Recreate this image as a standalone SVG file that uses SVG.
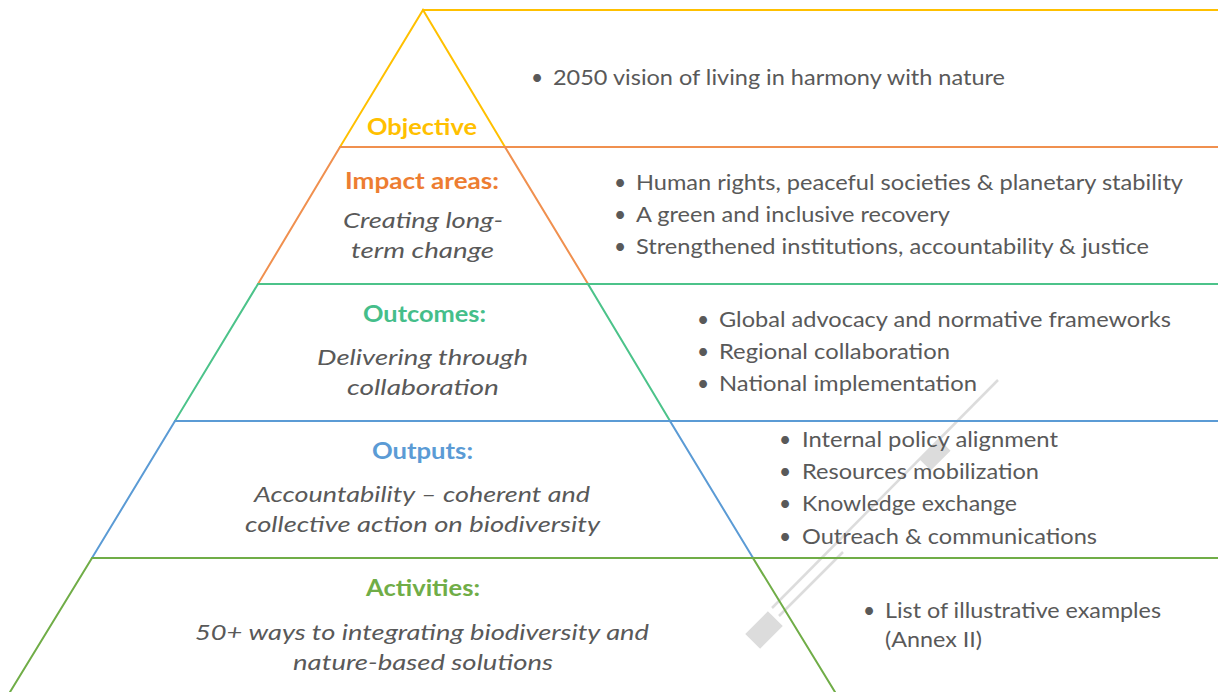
<svg xmlns="http://www.w3.org/2000/svg" width="1218" height="692" viewBox="0 0 1218 692">
<style>
.ln{fill:none;stroke-width:2;stroke-linecap:square}
.t{font-family:Lato,"Open Sans","Liberation Sans",sans-serif;font-size:21px;fill:#595959}
.h{font-family:Lato,"Open Sans","Liberation Sans",sans-serif;font-size:23px;font-weight:bold}
.i{font-family:Lato,"Open Sans","Liberation Sans",sans-serif;font-size:22px;font-style:italic;fill:#595959}
.b{font-family:Lato,"Liberation Sans",sans-serif;font-size:21px;fill:#595959}
.ghost{stroke:#dcdcdc;stroke-width:2.5;fill:none}
</style>
<rect width="1218" height="692" fill="#ffffff"/>
<g id="ghost">
<line class="ghost" x1="998" y1="380" x2="772" y2="608"/>
<line class="ghost" x1="843" y1="552" x2="779" y2="616"/>
<rect x="921" y="447" width="28" height="16" fill="#dcdcdc" transform="rotate(-45 935 455)"/>
<rect x="748" y="619.5" width="32" height="21" fill="#dcdcdc" transform="rotate(-45 764 630)"/>
</g>
<g id="connectors">
<path class="ln" stroke="#FFC000" d="M340,147 L423,10 L505,147 M423,10 H1218"/>
<path class="ln" stroke="#F0904F" d="M258,284 L340,147 H1218 M505,147 L588,284"/>
<path class="ln" stroke="#4CC38A" d="M175,421 L258,284 H1218 M588,284 L670,421"/>
<path class="ln" stroke="#5B9BD5" d="M92,558 L175,421 H1218 M670,421 L753,558"/>
<path class="ln" stroke="#70AD47" d="M10,692 L92,558 H1218 M753,558 L835,692"/>
</g>
<g id="objective">
<text class="h" x="367" y="135" fill="#FFC000" textLength="110" lengthAdjust="spacingAndGlyphs">Objective</text>
<text class="b" x="531" y="85">•</text>
<text class="t" x="553" y="85" textLength="452" lengthAdjust="spacingAndGlyphs">2050 vision of living in harmony with nature</text>
</g>
<g id="impact">
<text class="h" x="345" y="189" fill="#ED7D31" textLength="154" lengthAdjust="spacingAndGlyphs">Impact areas:</text>
<text class="i" x="343" y="228" textLength="160" lengthAdjust="spacingAndGlyphs">Creating long-</text>
<text class="i" x="351" y="258" textLength="143" lengthAdjust="spacingAndGlyphs">term change</text>
<text class="b" x="614" y="190">•</text>
<text class="t" x="636" y="190" textLength="547" lengthAdjust="spacingAndGlyphs">Human rights, peaceful societies &amp; planetary stability</text>
<text class="b" x="614" y="222">•</text>
<text class="t" x="636" y="222" textLength="314" lengthAdjust="spacingAndGlyphs">A green and inclusive recovery</text>
<text class="b" x="614" y="254">•</text>
<text class="t" x="636" y="254" textLength="513" lengthAdjust="spacingAndGlyphs">Strengthened institutions, accountability &amp; justice</text>
</g>
<g id="outcomes">
<text class="h" x="363" y="322" fill="#45BE8A" textLength="123" lengthAdjust="spacingAndGlyphs">Outcomes:</text>
<text class="i" x="317" y="365" textLength="211" lengthAdjust="spacingAndGlyphs">Delivering through</text>
<text class="i" x="347" y="395" textLength="152" lengthAdjust="spacingAndGlyphs">collaboration</text>
<text class="b" x="697" y="327">•</text>
<text class="t" x="719" y="327" textLength="452" lengthAdjust="spacingAndGlyphs">Global advocacy and normative frameworks</text>
<text class="b" x="697" y="359">•</text>
<text class="t" x="719" y="359" textLength="231" lengthAdjust="spacingAndGlyphs">Regional collaboration</text>
<text class="b" x="697" y="391">•</text>
<text class="t" x="719" y="391" textLength="258" lengthAdjust="spacingAndGlyphs">National implementation</text>
</g>
<g id="outputs">
<text class="h" x="372" y="459" fill="#5B9BD5" textLength="101" lengthAdjust="spacingAndGlyphs">Outputs:</text>
<text class="i" x="254" y="502" textLength="336" lengthAdjust="spacingAndGlyphs">Accountability – coherent and</text>
<text class="i" x="245" y="532" textLength="355" lengthAdjust="spacingAndGlyphs">collective action on biodiversity</text>
<text class="b" x="779" y="447">•</text>
<text class="t" x="802" y="447" textLength="256" lengthAdjust="spacingAndGlyphs">Internal policy alignment</text>
<text class="b" x="779" y="479">•</text>
<text class="t" x="802" y="479" textLength="237" lengthAdjust="spacingAndGlyphs">Resources mobilization</text>
<text class="b" x="779" y="511">•</text>
<text class="t" x="802" y="511" textLength="215" lengthAdjust="spacingAndGlyphs">Knowledge exchange</text>
<text class="b" x="779" y="544">•</text>
<text class="t" x="802" y="544" textLength="295" lengthAdjust="spacingAndGlyphs">Outreach &amp; communications</text>
</g>
<g id="activities">
<text class="h" x="366" y="596" fill="#70AD47" textLength="114" lengthAdjust="spacingAndGlyphs">Activities:</text>
<text class="i" x="195" y="640" textLength="454" lengthAdjust="spacingAndGlyphs">50+ ways to integrating biodiversity and</text>
<text class="i" x="293" y="670" textLength="260" lengthAdjust="spacingAndGlyphs">nature-based solutions</text>
<text class="b" x="863" y="618">•</text>
<text class="t" x="885" y="618" textLength="276" lengthAdjust="spacingAndGlyphs">List of illustrative examples</text>
<text class="t" x="885" y="647" textLength="97" lengthAdjust="spacingAndGlyphs">(Annex II)</text>
</g>
</svg>
